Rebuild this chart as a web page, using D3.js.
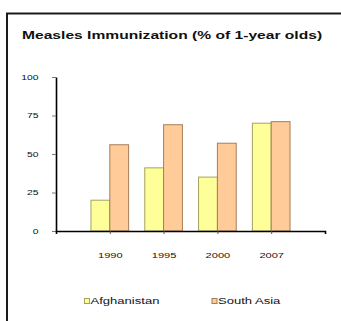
<!DOCTYPE html>
<html>
<head>
<meta charset="utf-8">
<script src="https://cdn.jsdelivr.net/npm/d3@7"></script>
<style>
  html, body { margin: 0; padding: 0; background: #fff; }
  svg { display: block; font-family: "Liberation Sans", Arial, sans-serif; }
</style>
</head>
<body>
<svg id="chart" width="341" height="321"></svg>
<script>
// Measles immunization, % of 1-year olds
const years = ["1990", "1995", "2000", "2007"];
const afghanistan = [20, 41, 35, 70];
const southAsia = [56, 69, 57, 71];
const seriesNames = ["Afghanistan", "South Asia"];
const yTicks = [0, 25, 50, 75, 100];

const fills = ["#FFFF99", "#FFCC99"];
const strokes = ["#A3A35E", "#A87C58"];
const stretch = 1.42; // text is set wide

const svg = d3.select("#chart");

// outer frame
svg.append("rect")
  .attr("x", 7).attr("y", 13.5)
  .attr("width", 345).attr("height", 320)
  .attr("fill", "none").attr("stroke", "#1a1a1a").attr("stroke-width", 2);

// title
svg.append("text")
  .attr("transform", `translate(22,38.5) scale(${stretch},1)`)
  .attr("font-size", 11).attr("font-weight", "bold").attr("fill", "#111")
  .text("Measles Immunization (% of 1-year olds)");

const plot = { left: 56, right: 325, top: 77, bottom: 231 };

const x = d3.scalePoint().domain(years).range([plot.left, plot.right]).padding(1);
const y = d3.scaleLinear().domain([0, 100]).range([plot.bottom, plot.top]);
const barW = x.step() * 0.35;

// bars
const series = [afghanistan, southAsia];
series.forEach((vals, s) => {
  svg.append("g").selectAll("rect")
    .data(vals)
    .join("rect")
    .attr("x", (d, i) => x(years[i]) + (s === 0 ? -barW : 0))
    .attr("y", d => y(d))
    .attr("width", barW)
    .attr("height", d => y(0) - y(d))
    .attr("fill", fills[s])
    .attr("stroke", strokes[s])
    .attr("stroke-width", 1);
});

// y axis
const yAxis = svg.append("g")
  .attr("transform", `translate(${plot.left},0)`)
  .call(d3.axisLeft(y).tickValues(yTicks).tickSize(4).tickSizeOuter(0));
yAxis.select(".domain").attr("stroke", "#000").attr("stroke-width", 1.6);
yAxis.selectAll(".tick line").attr("stroke", "#777");
yAxis.selectAll(".tick text")
  .attr("x", 0).attr("dy", "0.34em")
  .attr("transform", `translate(-17.5,0) scale(${stretch},1)`)
  .attr("font-size", 7.3).attr("fill", "#111");

// x axis
const xAxis = svg.append("g")
  .attr("transform", `translate(0,${plot.bottom})`)
  .call(d3.axisBottom(x).tickSize(3).tickSizeOuter(3));
xAxis.select(".domain").attr("stroke", "#000").attr("stroke-width", 1.6);
xAxis.selectAll(".tick line").attr("stroke", "#555");
xAxis.selectAll(".tick text")
  .attr("y", 0).attr("dy", 0)
  .attr("transform", `translate(0,27) scale(${stretch},1)`)
  .attr("font-size", 7.8).attr("fill", "#111");

// legend
const legendX = [84, 211.5];
const legend = svg.append("g").selectAll("g")
  .data(seriesNames)
  .join("g")
  .attr("transform", (d, i) => `translate(${legendX[i]},298)`);
legend.append("rect")
  .attr("x", 0.5).attr("y", 0.5).attr("width", 5).attr("height", 5)
  .attr("fill", (d, i) => fills[i]).attr("stroke", (d, i) => strokes[i]);
legend.append("text")
  .attr("transform", `translate(6.5,6.3) scale(${stretch},1)`)
  .attr("font-size", 9.2).attr("fill", "#111")
  .text(d => d);
</script>
</body>
</html>
